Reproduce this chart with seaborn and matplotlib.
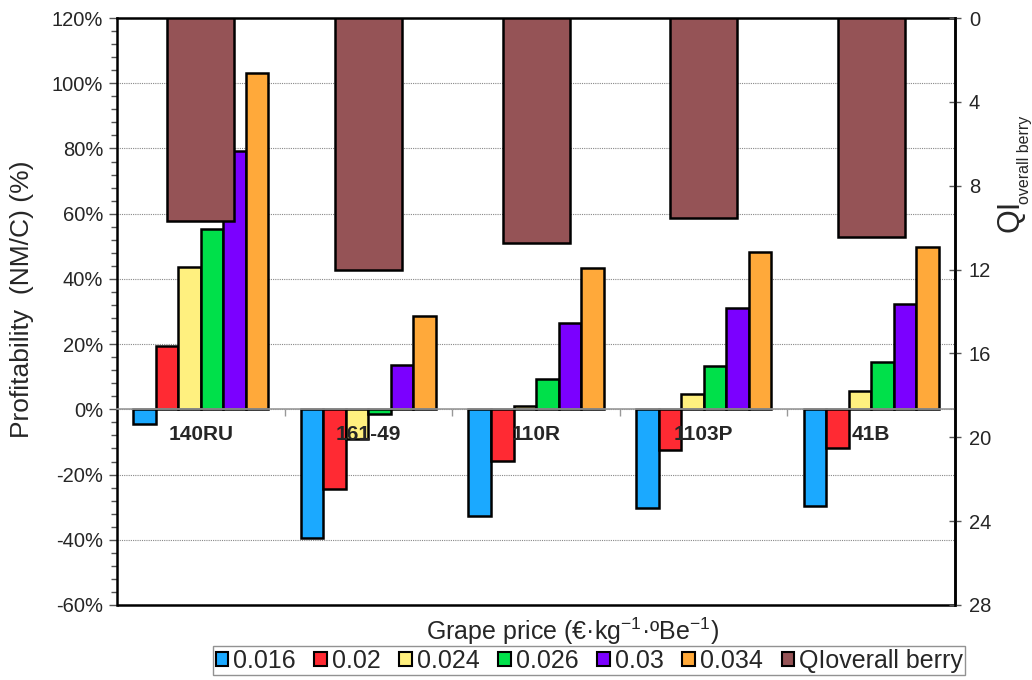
import numpy as np
import pandas as pd
import matplotlib
matplotlib.use("Agg")
import matplotlib.pyplot as plt
import matplotlib.patches as mpatches
from matplotlib.ticker import MultipleLocator, FuncFormatter
import seaborn as sns

# data
varieties = ['140RU', '161-49', '110R', '1103P', '41B']
prices = ['0.016', '0.02', '0.024', '0.026', '0.03', '0.034']
profit = {
    '0.016': [-4.5, -39.5, -32.6, -30.3, -29.5],
    '0.02':  [19.5, -24.3, -15.7, -12.6, -11.8],
    '0.024': [43.5, -9.0, 0.9, 4.8, 5.6],
    '0.026': [55.4, -1.5, 9.4, 13.3, 14.6],
    '0.03':  [79.2, 13.5, 26.4, 31.0, 32.2],
    '0.034': [103.0, 28.7, 43.3, 48.4, 49.7],
}
qi_overall = [9.67, 12.0, 10.75, 9.55, 10.43]

colors = ['#1BA9FF', '#FF2A33', '#FFF07F', '#00E04A', '#7B00FF', '#FFA93A']
qi_color = '#955356'

rows = []
for p in prices:
    for v, val in zip(varieties, profit[p]):
        rows.append({'variety': v, 'price': p, 'profit': val})
df = pd.DataFrame(rows)
df_qi = pd.DataFrame({'variety': varieties, 'qi': qi_overall})

sns.set_style("white")
plt.rcParams['font.family'] = ['Liberation Sans', 'DejaVu Sans']

fig = plt.figure(figsize=(10.32, 6.8), dpi=100)
ax = fig.add_axes([0.1134, 0.1103, 0.812, 0.8632])

sns.barplot(data=df, x='variety', y='profit', hue='price', hue_order=prices,
            palette=colors, width=0.806, edgecolor='black', linewidth=1.8,
            ax=ax, legend=False, errorbar=None, saturation=1)

ax.set_ylim(-60, 120)
ax.yaxis.set_major_locator(MultipleLocator(20))
ax.yaxis.set_minor_locator(MultipleLocator(4))
ax.yaxis.set_major_formatter(FuncFormatter(lambda v, _: '{:.0f}%'.format(v)))
ax.grid(axis='y', which='major', color='#888888', linestyle=(0, (1, 1)), linewidth=0.8)
ax.set_axisbelow(True)
ax.tick_params(axis='y', which='major', direction='out', length=6, width=1, color='#555555',
               labelsize=14.5, pad=4, left=True)
ax.tick_params(axis='y', which='minor', direction='out', length=4, width=1, color='#555555', left=True)

# x axis sits on the zero line, category boundaries as small ticks
ax.spines['bottom'].set_position(('data', 0))
ax.spines['bottom'].set_color('#999999')
ax.spines['bottom'].set_linewidth(1.2)
ax.set_xlim(-0.5, 4.5)
ax.set_xticks(np.arange(len(varieties)))
ax.set_xticklabels([])
ax.tick_params(axis='x', which='major', length=0)
ax.set_xticks(np.arange(0.5, 4.5, 1.0), minor=True)
ax.tick_params(axis='x', which='minor', direction='out', length=5, width=1, color='#999999', bottom=True)
ax.set_xlabel('')
ax.set_ylabel('')
for s in ['left', 'top', 'right']:
    ax.spines[s].set_color('black')
    ax.spines[s].set_linewidth(1.8)
ax.add_patch(mpatches.Rectangle((0, 0), 1, 0, transform=ax.transAxes, fill=False,
                                edgecolor='black', linewidth=1.8, clip_on=False))

ax2 = ax.twinx()
sns.barplot(data=df_qi, x='variety', y='qi', color=qi_color, width=0.4,
            edgecolor='black', linewidth=1.8, ax=ax2, errorbar=None, saturation=1)
ax2.set_ylim(28, 0)
ax2.set_xlim(-0.5, 4.5)
ax2.yaxis.set_major_locator(MultipleLocator(4))
ax2.tick_params(axis='y', direction='inout', length=8, width=1, color='#555555',
                labelsize=14.5, pad=6, right=True)
ax2.set_ylabel('')
for s in ax2.spines.values():
    s.set_visible(False)
ax2.spines['right'].set_visible(True)
ax2.spines['right'].set_color('black')
ax2.spines['right'].set_linewidth(1.8)

# variety names, bold, just below zero
for i, v in enumerate(varieties):
    ax2.text(i, 0.29, v, transform=ax2.get_xaxis_transform(), ha='center', va='center',
             fontsize=15, fontweight='bold', zorder=10)

# axis titles
fig.text(22 / 1032, 1 - 299 / 680, 'Profitability  (NM/C) (%)', rotation=90,
         ha='center', va='center', fontsize=19)
fig.text(1011 / 1032, 1 - 216 / 680, 'QI', rotation=90, ha='center', va='center', fontsize=22)
fig.text(1025 / 1032, 1 - 160 / 680, 'overall berry', rotation=90, ha='center', va='center',
         fontsize=11.5)
fig.text(0.555, 0.071, r'Grape price (€·kg$^{\mathregular{-1}}$·ºBe$^{\mathregular{-1}}$)',
         ha='center', va='center', fontsize=18)

handles = [mpatches.Patch(facecolor=c, edgecolor='black', linewidth=1.5) for c in colors]
handles.append(mpatches.Patch(facecolor=qi_color, edgecolor='black', linewidth=1.5))
labels = prices + ['QIoverall berry']
fig.legend(handles, labels, loc='center', bbox_to_anchor=(0.571, 0.028), ncol=7,
           fontsize=18, frameon=True, fancybox=False, edgecolor='#777777',
           handlelength=0.5, handleheight=0.5, handletextpad=0.2, columnspacing=0.75,
           borderpad=0.1, borderaxespad=0)

fig.savefig('out.png', dpi=100)
